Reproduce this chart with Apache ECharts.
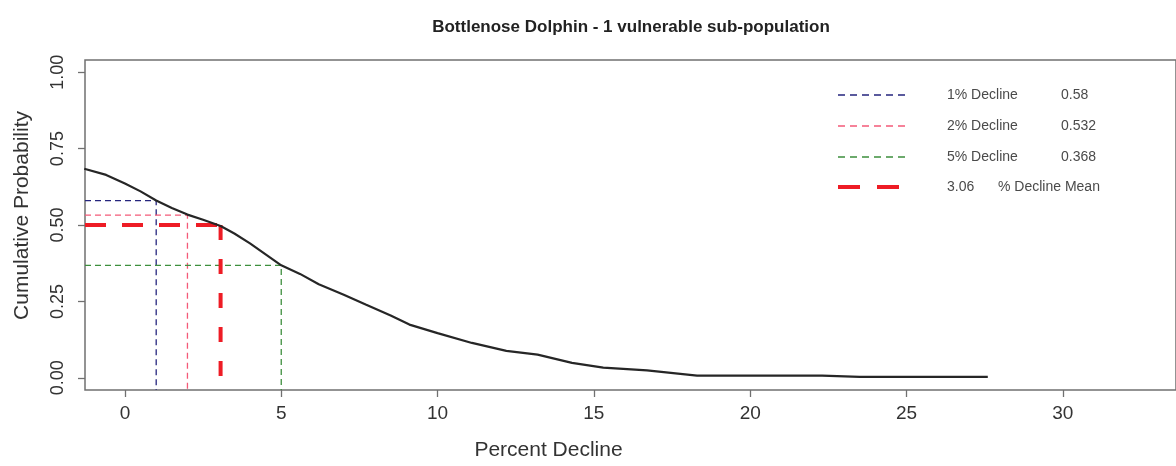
<!DOCTYPE html>
<html>
<head>
<meta charset="utf-8">
<script src="https://cdn.jsdelivr.net/npm/echarts@6/dist/echarts.min.js"></script>
<style>
  html, body { margin: 0; padding: 0; background: #ffffff; }
  #chart { width: 1176px; height: 466px; }
</style>
</head>
<body>
<div id="chart"></div>
<script>
// Cumulative probability of exceeding each percent decline
const declinePct = [-1.3, -0.6, 0, 0.5, 1, 1.5, 2, 2.5, 3.06, 3.5, 4, 4.5, 5, 5.6, 6.2, 7, 7.7, 8.5, 9.1, 10, 11.1, 12.2, 13.2, 14.3, 15.3, 16.7, 18.3, 22.3, 23.5, 27.6];
const cumProb    = [0.684, 0.664, 0.636, 0.610, 0.580, 0.556, 0.534, 0.517, 0.497, 0.472, 0.440, 0.404, 0.368, 0.340, 0.306, 0.272, 0.240, 0.204, 0.174, 0.146, 0.114, 0.088, 0.076, 0.049, 0.033, 0.024, 0.007, 0.007, 0.003, 0.003];

// Threshold declines and the probability read at each
const thresholdNames = ['1% Decline', '2% Decline', '5% Decline'];
const thresholdPct   = [1, 2, 5];
const thresholdProb  = [0.58, 0.532, 0.368];
const thresholdColors = ['#25257e', '#f45a78', '#3d8f3d'];

// Mean decline
const meanDecline = 3.06;
const meanProb = 0.5;
const meanName = '% Decline Mean';
const meanColor = '#ee1c25';

// Axis ticks
const xTicks = [0, 5, 10, 15, 20, 25, 30];
const yTicks = [0, 0.25, 0.5, 0.75, 1];

const titleText = 'Bottlenose Dolphin - 1 vulnerable sub-population';
const xName = 'Percent Decline';
const yName = 'Cumulative Probability';

// Plot ranges (padded like a base-graphics plot region)
const X_MIN = -1.277, X_MAX = 33.62;
const Y_MIN = -0.04, Y_MAX = 1.04;

const FONT = '"Liberation Sans", Arial, sans-serif';
const chart = echarts.init(document.getElementById('chart'));

const curve = declinePct.map((x, i) => [x, cumProb[i]]);

const series = [{
  type: 'line',
  data: curve,
  symbol: 'none',
  clip: true,
  lineStyle: { color: '#262626', width: 2.2 },
  z: 5
}];

thresholdPct.forEach((pct, i) => {
  series.push({
    type: 'line',
    data: [[X_MIN, thresholdProb[i]], [pct, thresholdProb[i]], [pct, Y_MIN]],
    symbol: 'none',
    silent: true,
    lineStyle: { color: thresholdColors[i], width: 1.3, type: [6, 4] },
    z: 3
  });
});

series.push({
  type: 'line',
  data: [[X_MIN, meanProb], [meanDecline, meanProb]],
  symbol: 'none',
  silent: true,
  lineStyle: { color: meanColor, width: 4, type: [21, 16] },
  z: 4
});
series.push({
  type: 'line',
  data: [[meanDecline, meanProb], [meanDecline, Y_MIN]],
  symbol: 'none',
  silent: true,
  lineStyle: { color: meanColor, width: 4, type: [15, 19] },
  z: 4
});

// Legend drawn as line samples with labels and values
const legendGraphics = [];
const legendY = [95, 126, 157, 187];
const legendText = { fontSize: 14, fontFamily: FONT, fill: '#4a4a4a', verticalAlign: 'middle' };
thresholdNames.forEach((name, i) => {
  legendGraphics.push({
    type: 'line', shape: { x1: 838, y1: legendY[i], x2: 906, y2: legendY[i] },
    style: { stroke: thresholdColors[i], lineWidth: 1.3, lineDash: [7, 5] }
  });
  legendGraphics.push({
    type: 'text', x: 947, y: legendY[i],
    style: Object.assign({ text: name }, legendText)
  });
  legendGraphics.push({
    type: 'text', x: 1061, y: legendY[i],
    style: Object.assign({ text: String(thresholdProb[i]) }, legendText)
  });
});
legendGraphics.push({
  type: 'line', shape: { x1: 838, y1: legendY[3], x2: 906, y2: legendY[3] },
  style: { stroke: meanColor, lineWidth: 4, lineDash: [22, 17] }
});
legendGraphics.push({
  type: 'text', x: 947, y: legendY[3],
  style: Object.assign({ text: meanDecline.toFixed(2) }, legendText)
});
legendGraphics.push({
  type: 'text', x: 998, y: legendY[3],
  style: Object.assign({ text: meanName }, legendText)
});

chart.setOption({
  animation: false,
  backgroundColor: '#ffffff',
  title: {
    text: titleText,
    left: 626,
    top: 14,
    textAlign: 'center',
    textStyle: { fontSize: 17, fontWeight: 'bold', fontFamily: FONT, color: '#222' }
  },
  grid: {
    left: 85, top: 60, right: -2, bottom: 72,
    show: true, borderColor: '#707070', borderWidth: 1.5, backgroundColor: 'transparent'
  },
  xAxis: {
    type: 'value',
    min: X_MIN, max: X_MAX,
    name: xName,
    nameLocation: 'middle',
    nameGap: 50,
    nameTextStyle: { fontSize: 21, fontFamily: FONT, color: '#333', padding: [0, 164, 0, 0] },
    axisLine: { show: false, onZero: false },
    axisTick: { show: true, customValues: xTicks, length: 7, lineStyle: { color: '#707070', width: 1.3 } },
    axisLabel: { customValues: xTicks, margin: 14, fontSize: 19, fontFamily: FONT, color: '#333' },
    splitLine: { show: false }
  },
  yAxis: {
    type: 'value',
    min: Y_MIN, max: Y_MAX,
    name: yName,
    nameLocation: 'middle',
    nameGap: 52,
    nameTextStyle: { fontSize: 21, fontFamily: FONT, color: '#333', padding: [0, 0, 0, 19] },
    axisLine: { show: false, onZero: false },
    axisTick: { show: true, customValues: yTicks, length: 7, lineStyle: { color: '#707070', width: 1.3 } },
    axisLabel: {
      customValues: yTicks, rotate: 90, margin: 18,
      fontSize: 18, fontFamily: FONT, color: '#333',
      formatter: v => v.toFixed(2)
    },
    splitLine: { show: false }
  },
  graphic: legendGraphics,
  series: series
});
</script>
</body>
</html>
